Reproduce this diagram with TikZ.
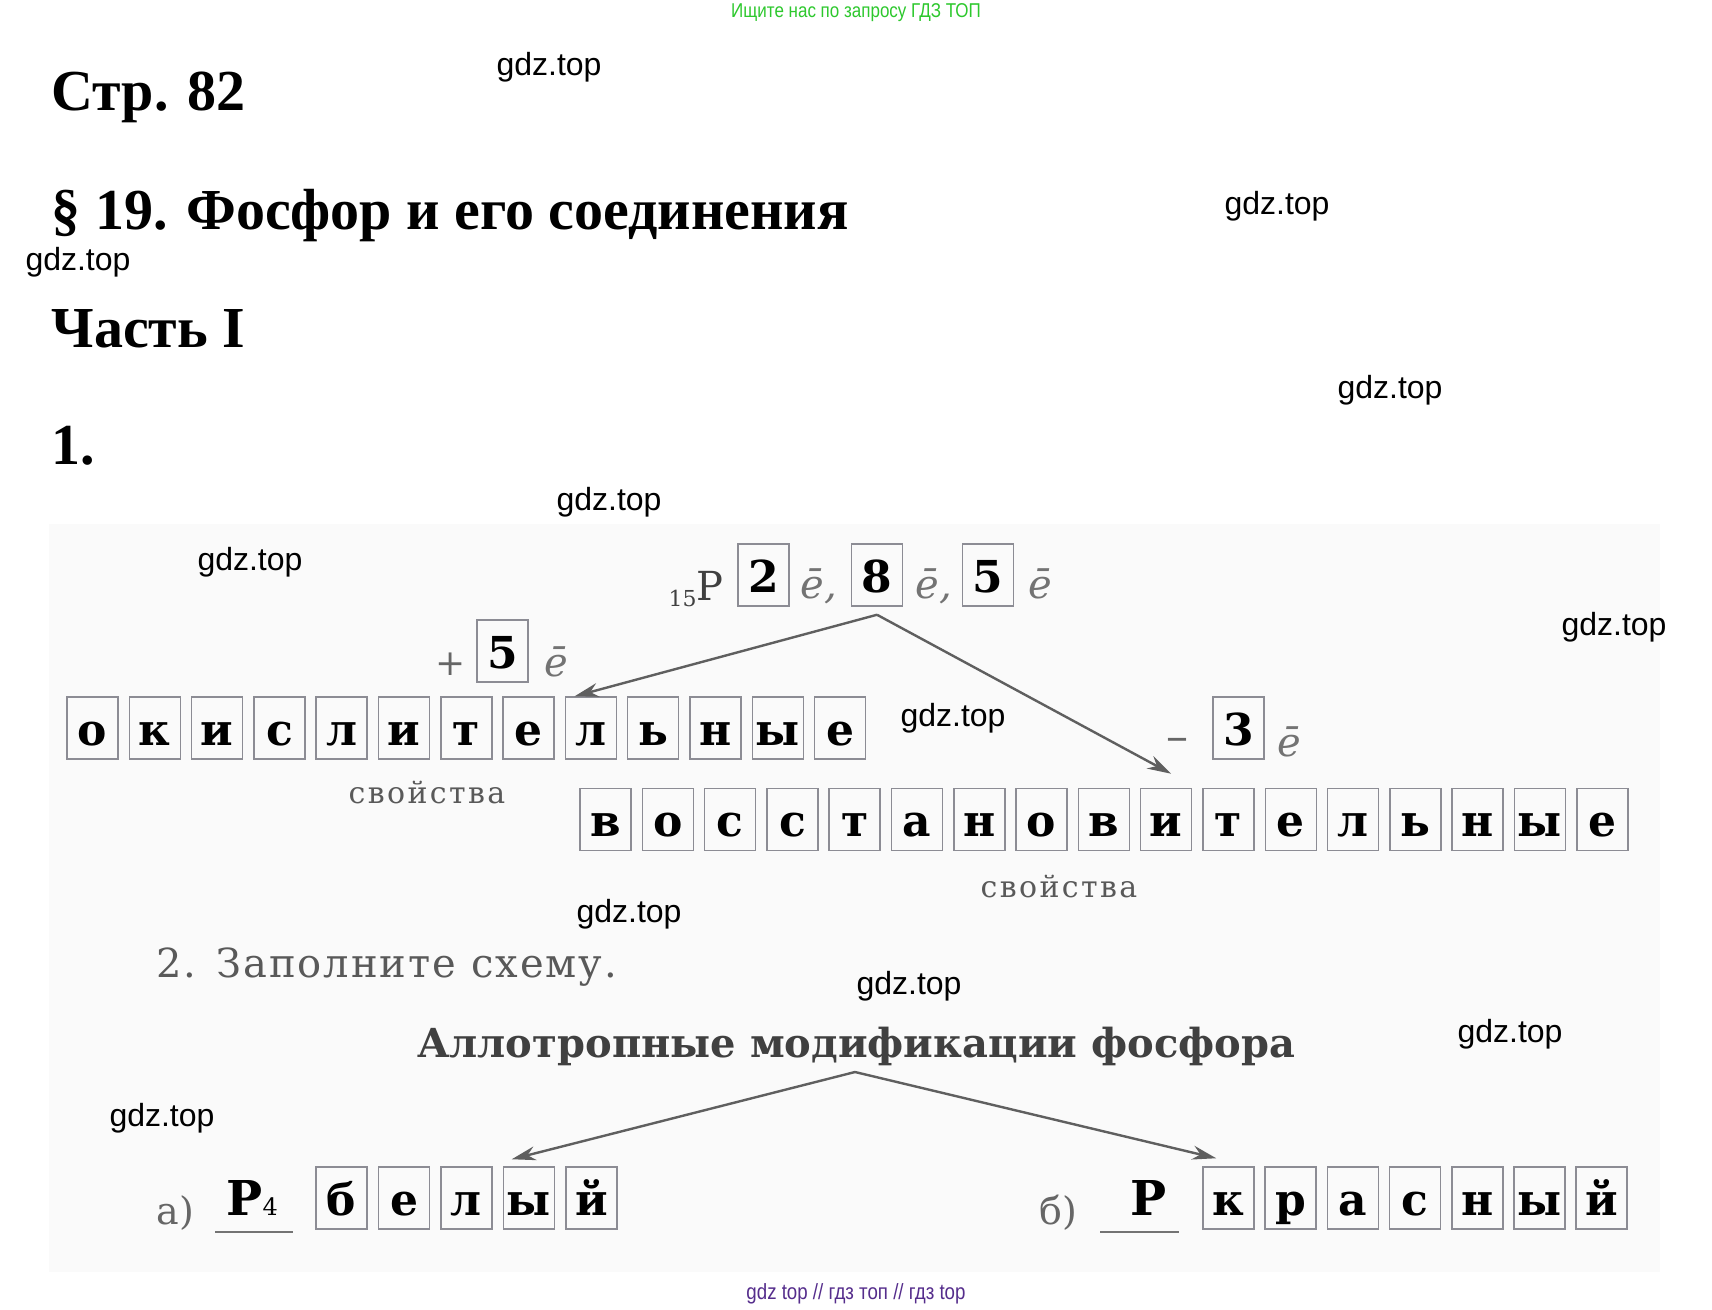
\documentclass[tikz,border=0pt]{standalone}
\usepackage{fontspec}
\usetikzlibrary{arrows.meta,positioning}
\setmainfont{DejaVu Serif}
\newfontfamily\headfont{Liberation Serif}
\newfontfamily\wmfont{Liberation Sans}
\newfontfamily\narrowfont[FakeStretch=0.85]{Liberation Sans}

\definecolor{adgreen}{RGB}{45,200,45}
\definecolor{adpurple}{RGB}{85,45,140}
\definecolor{scanbg}{RGB}{250,250,250}
\definecolor{inkgray}{RGB}{95,95,95}
\definecolor{boxgray}{RGB}{140,140,148}

\tikzset{
  letterbox/.style={draw=boxgray,line width=1.5pt,minimum width=51pt,inner sep=0pt,
    text height=48pt,text depth=14pt,font=\fontsize{44}{44}\selectfont\bfseries},
  wm/.style={font=\wmfont\fontsize{32}{32}\selectfont},
  head/.style={anchor=base west,font=\headfont\fontsize{58}{58}\selectfont\bfseries},
  ebar/.style={anchor=base west,text=black!55,font=\fontsize{40}{40}\selectfont\itshape},
  caption/.style={text=black!65,font=\fontsize{30}{30}\selectfont\addfontfeature{LetterSpace=8}},
  conn/.style={draw=inkgray,line width=2.4pt,-{Stealth[length=24pt,width=14pt]}},
}

\begin{document}
\begin{tikzpicture}[x=1pt,y=-1pt]
\fill[white] (0,0) rectangle (1712,1309);
\useasboundingbox (0,0) rectangle (1712,1309);
\fill[scanbg] (49,524) rectangle (1660,1272);

% header and footer
\node[text=adgreen,font=\narrowfont\fontsize{20}{20}\selectfont] (ad) at (856,13) {Ищите нас по запросу ГДЗ ТОП};
\node[text=adpurple,font=\narrowfont\fontsize{22}{22}\selectfont] (foot) at (856,1294) {gdz top // гдз топ // гдз top};

\node[head] (page) at (48,110) {Стр. 82};
\node[head] (para) at (48,229) {§ 19. Фосфор и его соединения};
\node[head] (part) at (48,347) {Часть I};
\node[head] (task) at (48,464) {1.};

% task 1: electrons
\node[anchor=base east,text=black!75,font=\fontsize{40}{40}\selectfont] (elem) at (727,600)
  {\raisebox{-6pt}{\fontsize{22}{22}\selectfont 15}P};
\node[letterbox] (s1) at (763.5,575) {2};
\node[ebar] (e1) at (797,598) {ē,};
\node[letterbox] (s2) at (877,575) {8};
\node[ebar] (e2) at (912,598) {ē,};
\node[letterbox] (s3) at (988,575) {5};
\node[ebar] (e3) at (1025,598) {ē};

\node[text=black!60,font=\fontsize{36}{36}\selectfont] (plus) at (451,664) {+};
\node[letterbox] (gain) at (502.5,651) {5};
\node[ebar] (e4) at (541,676) {ē};

\node[text=black!60,font=\fontsize{44}{44}\selectfont] (minus) at (1177,745) {–};
\node[letterbox] (loss) at (1238.5,728) {3};
\node[ebar] (e5) at (1274,756) {ē};

\foreach \l [count=\i] in {о,к,и,с,л,и,т,е,л,ь,н,ы,е}
  \node[letterbox] (ok-\i) at ({92.5+(\i-1)*62.3},728) {\l};
\node[caption] (prop1) at (427,793) {свойства};

\foreach \l [count=\i] in {в,о,с,с,т,а,н,о,в,и,т,е,л,ь,н,ы,е}
  \node[letterbox] (vo-\i) at ({605.5+(\i-1)*62.3},819.5) {\l};
\node[caption] (prop2) at (1059,887) {свойства};

\draw[conn] ([yshift=-8pt]s2.south) -- ([xshift=10pt]ok-9.north west);
\draw[conn] ([yshift=-8pt]s2.south) -- ([xshift=5pt,yshift=14pt]vo-10.north);

% task 2: allotropes
\node[anchor=base west,text=black!65,font=\fontsize{40}{40}\selectfont\addfontfeature{LetterSpace=5}] (task2) at (153,977) {2. Заполните схему.};
\node[anchor=base,text=black!75,font=\fontsize{40}{40}\selectfont\bfseries] (allo) at (856,1057) {Аллотропные модификации фосфора};
\coordinate (split) at (855,1072);

\node[anchor=base west,text=black!60,font=\fontsize{38}{38}\selectfont] (ia) at (153,1224) {а)};
\node[anchor=base west,font=\fontsize{48}{48}\selectfont\bfseries] (white) at (223,1215) {P{\fontsize{24}{24}\selectfont\mdseries 4}};
\draw[black!55,line width=2pt] (215,1232) -- (293,1232);
\foreach \l [count=\i] in {б,е,л,ы,й}
  \node[letterbox] (be-\i) at ({341.5+(\i-1)*62.5},1198) {\l};

\node[anchor=base west,text=black!60,font=\fontsize{38}{38}\selectfont] (ib) at (1036,1224) {б)};
\node[anchor=base west,font=\fontsize{48}{48}\selectfont\bfseries] (red) at (1127,1215) {P};
\draw[black!55,line width=2pt] (1100,1232) -- (1179,1232);
\foreach \l [count=\i] in {к,р,а,с,н,ы,й}
  \node[letterbox] (kr-\i) at ({1228.5+(\i-1)*62.2},1198) {\l};

\draw[conn] (split) -- ([xshift=9pt,yshift=7pt]be-4.north west);
\draw[conn] (split) -- ([xshift=14pt,yshift=8pt]kr-1.north west);

% watermarks
\foreach \x/\y [count=\i] in {549/67,1277/206,78/262,1390/390,609/502,250/562,1614/627,
    953/718,629/914,909/986,1510/1034,162/1118}
  \node[wm] (wm-\i) at (\x,\y) {gdz.top};
\end{tikzpicture}
\end{document}
